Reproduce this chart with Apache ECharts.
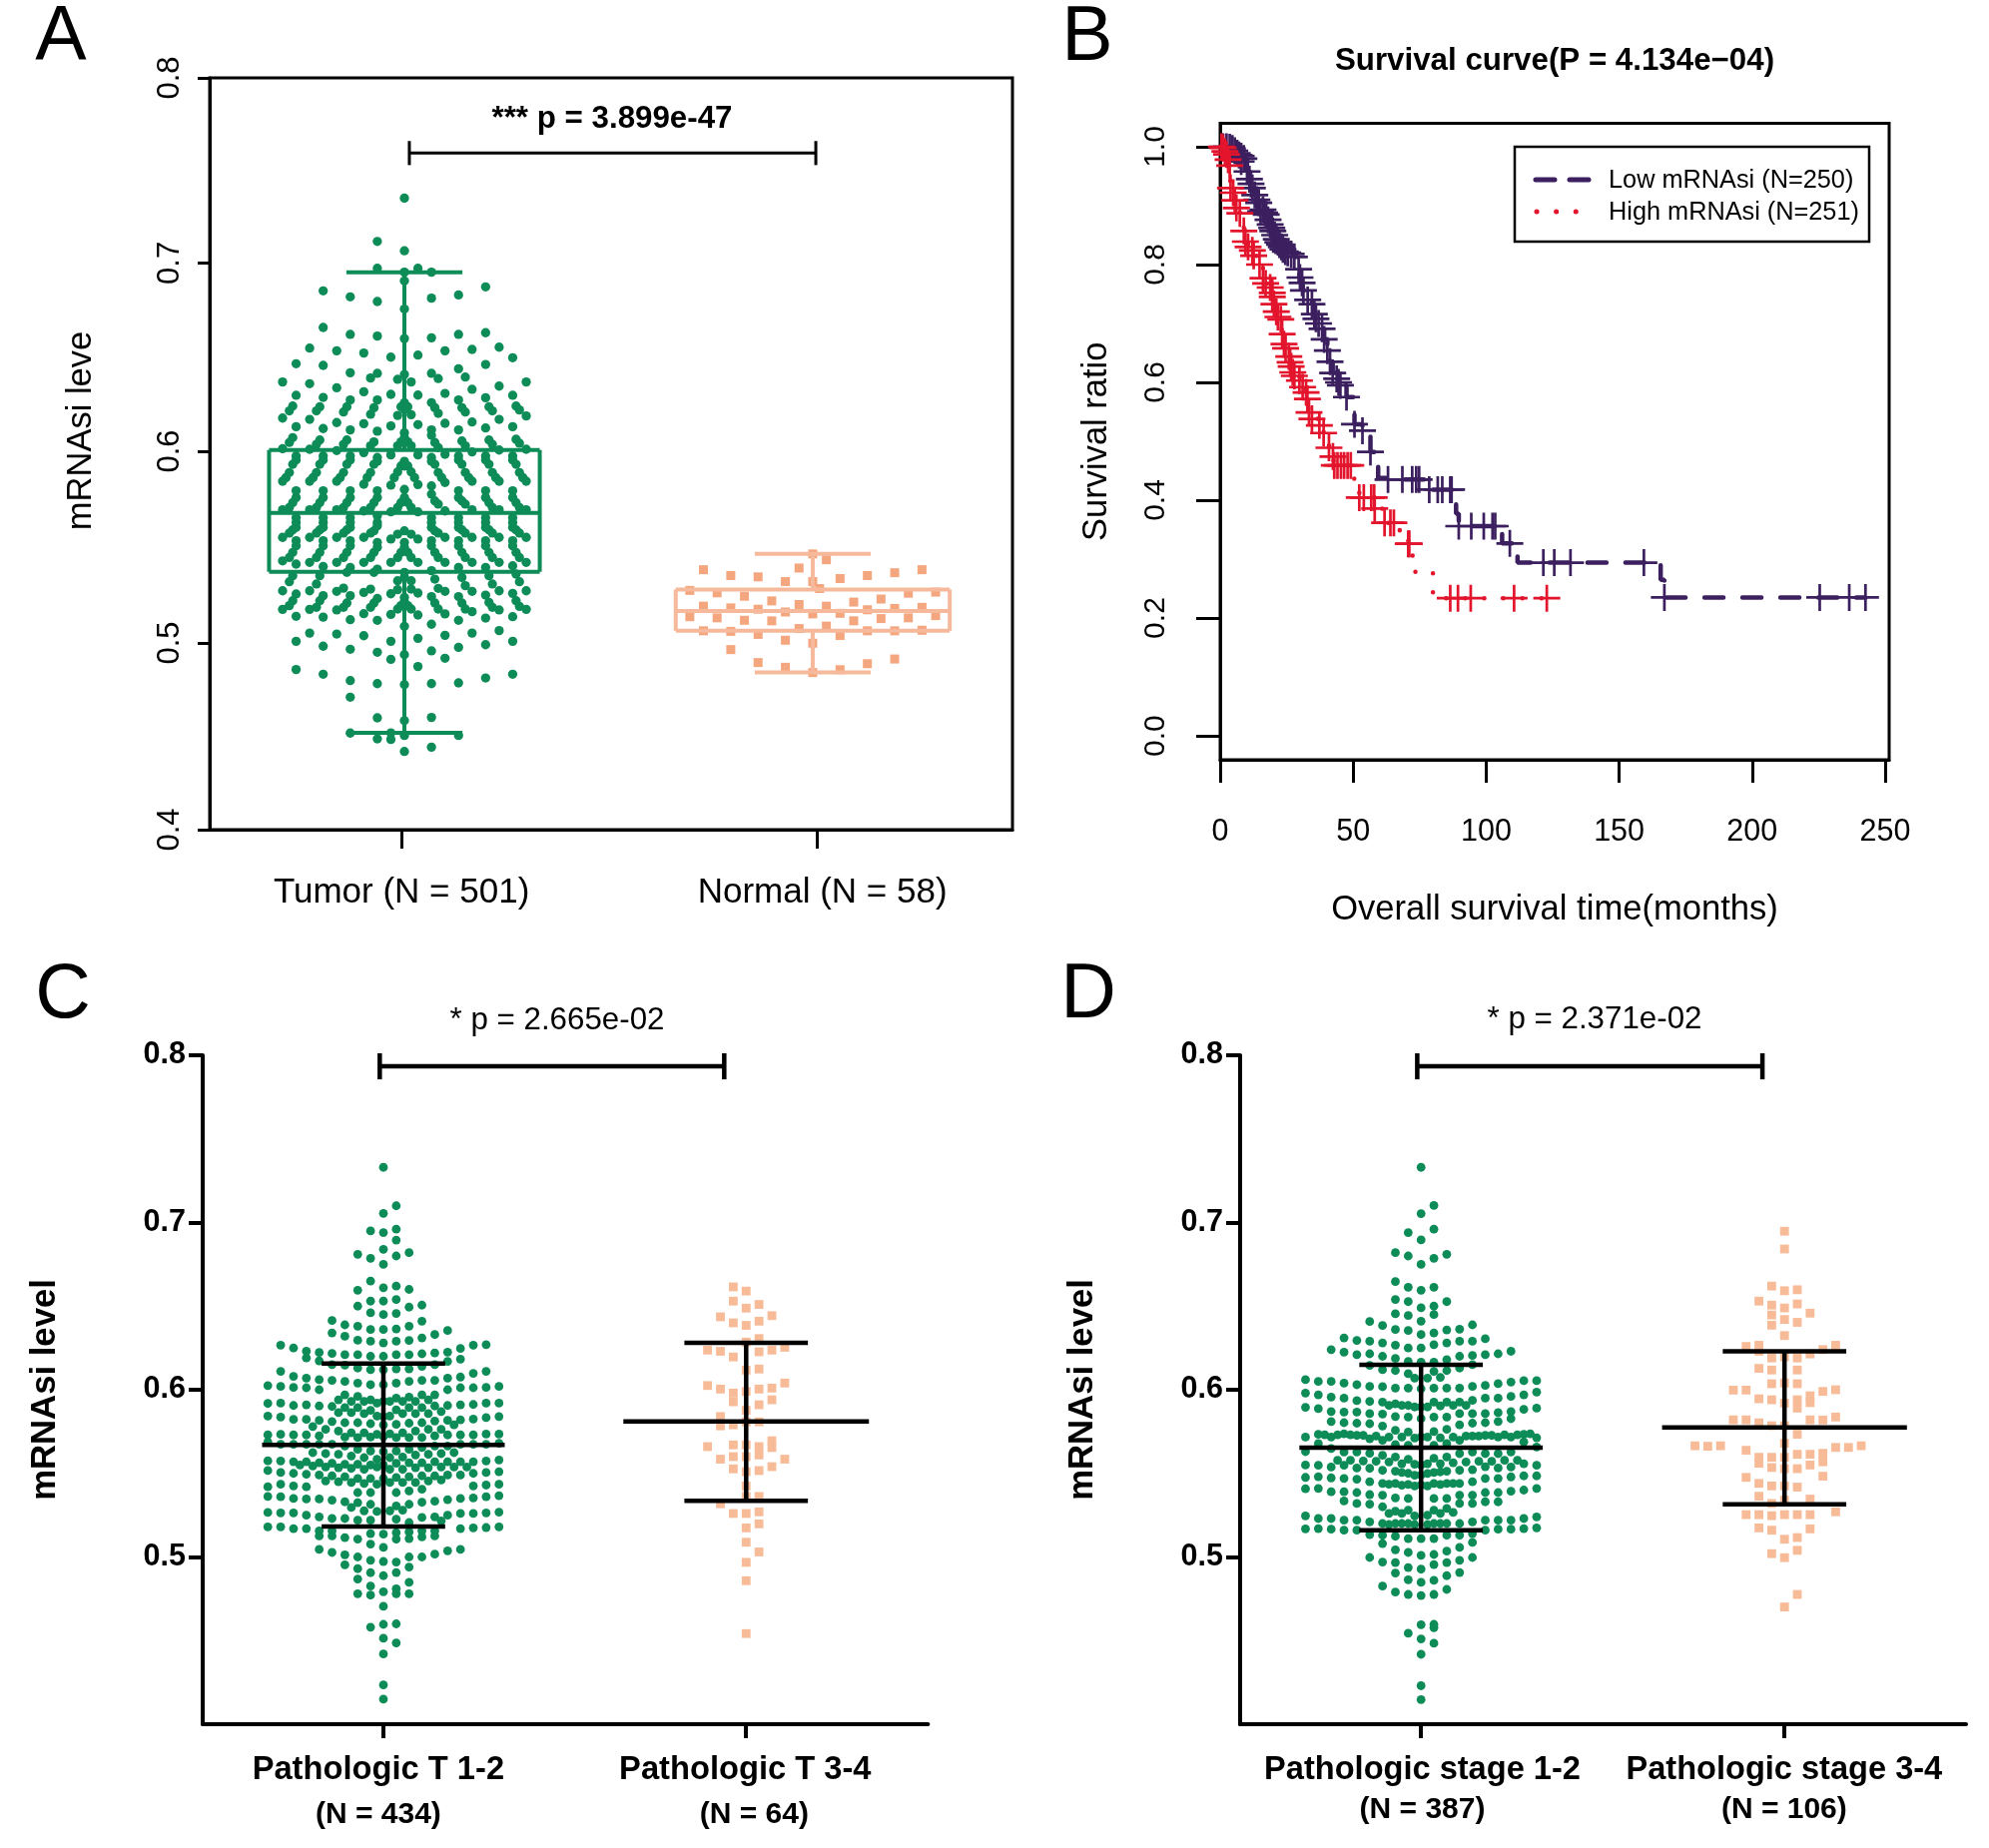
<!DOCTYPE html>
<html><head><meta charset="utf-8">
<style>html,body{margin:0;padding:0;background:#fff}#c{width:1992px;height:1851px}</style>
<script src="https://cdn.jsdelivr.net/npm/echarts@6/dist/echarts.min.js"></script>
</head><body><div id="c"></div>
<script>
// ---------- Panel A: swarm columns, values in thousandths: [column slot, [mRNAsi x 1000]]
const tumorA = [
[0,[736,708,696.6,692,677,661.3,642.2,627.2,623.6,611.2,608.6,596,593.5,581,576.7,559,552.8,550.2,536.9,534.2,523.6,521.3,508.2,493.1,477.2,458,450.1,441.6]],
[-.25,[625,606.3,593.5,574,547.5,519.2]],[.25,[625,606.3,593.5,574,547.5,519.2]],
[-.5,[639.6,620.4,604.2,590.3,571.4,557.2,544.8,532.4,527.7,517.4]],[.5,[638.2,620.8,604.2,590.3,571.4,557.2,544.8,532.4,528,517.4]],
[-.75,[587.3]],[.75,[587.3]],
[-1,[651.4,631.6,614.8,599.4,583.3,569.1,554.6,542.2,525.5,514.5,500.2,490.6,451.5,448]],
[1,[698.7,652.5,631.2,615.5,599.4,583.6,569.1,554.6,542.2,525.9,514.2,501.8,486.8]],
[-2,[713,698.7,681,662.6,642.8,628.6,612,598,596,580.3,576.7,567,563.4,561.7,552.8,550.2,538.6,523,511.4,494.4,477.7,459.5,448.3]],
[-2.25,[624.5,606.3,594.4,574,559,547.5,536.9,520.6]],
[-2.5,[640.3,621,604.2,590,571.4,557.8,544.8,528,518.3]],[-2.75,[587.3]],
[-3,[653.6,633,616,600.6,583.8,569.6,555.5,542.2,526.2,514.9,503.2]],
[-4,[683.5,663.5,643.1,628.6,612.7,598.8,596.7,580.3,576.7,566,563.4,560.8,553.7,551,539.5,524.5,511.7,496,479.3,470.5,451.4]],
[-4.25,[625,607.3,594.4,574,559.5,547.5,536.9,520.6]],
[-4.5,[622.2,605,590,571.4,557.8,544.8,528.5,518.3]],[-4.75,[587.3]],
[-5,[654.8,635.1,616.6,601.7,585.4,570.2,555.5,542.2,526.8,516.9,504.1]],
[-6,[686.7,667.2,647,630,613.4,598.8,596.7,580.3,576.7,566,563.4,560.8,553.7,551,540,524.5,513.1,497.6,482.7]],
[-6.25,[625,607.3,594.4,574,559.5,547.5,535.1,521.8]],
[-6.5,[622.8,605,590,571.4,557.8,544.8,530.7,518.3]],[-6.75,[587.3]],
[-7,[656.2,637.3,618.3,602.4,585.4,570.2,555.5,542.2,527.1,517.2,504.6]],
[-8,[647.9,631.1,614.4,598.8,596.7,580.3,576.7,566,563.4,560.8,553.7,551,541.3,525.4,513.5,500.2,485.2]],
[-8.25,[625.4,608.6,594.4,574,559.5,547.5,535.1,521.8]],
[-8.5,[622.8,606,590,571.4,557.8,544.8,531.9,519.2]],[-8.75,[587.3]],
[-9,[638.2,619,602.7,585.4,570.2,555.5,543,527.1,517.2]],
[2,[696.6,682.8,661.7,642.8,627.2,612.7,609.8,598,596,582.9,578.5,566,563.4,560.8,553.7,551,537.8,524,509.3,495.1,477.7,459.7,443.9]],
[2.25,[624.5,606,594.4,574.9,559,547.5,533.3,520.6]],
[2.5,[640,621.5,603.3,590,573.2,557.8,544.8,528.4,517.4]],[2.75,[587.3]],
[3,[654.8,632.1,616.2,599.7,584.7,569.6,555.5,542.2,526.8,514.8,503.4,491.2]],
[4,[684.5,663.5,645.2,628.6,612.7,598.8,596.7,580.3,576.7,566,563.4,560.8,553.7,551,539.5,524,511.4,497,478.1,450.1]],
[4.25,[624.5,606.8,594.4,574.9,559.5,547.5,534.2,520.6]],
[4.5,[640.8,622.2,604.2,590,573.2,557.8,544.8,529.8,517.4]],[4.75,[587.3]],
[5,[655.5,634.3,616.9,601,585.4,570.2,555.5,542.2,526.8,516,504.6]],
[6,[688.8,664.4,647.5,629.8,613.7,598.8,596.7,580.3,576.7,566,563.4,560.8,553.7,551,539.5,524.8,512.6,498.4,480.7]],
[6.25,[625,607.3,594.4,574,559.5,547.5,535.1,520.9]],
[6.5,[622.8,605,590,571.4,557.8,544.8,530.7,518.3]],[6.75,[587.3]],
[7,[656.7,636,618.3,602,585.4,570.2,555.5,542.2,527.1,516.9,505.9]],
[8,[651.1,631.1,614.4,598.8,596.7,580.3,576.7,566,563.4,560.8,553.7,551,540.4,525.7,513.3,500.2,482.7]],
[8.25,[625.4,607.7,594.4,574,559.5,547.5,536,521.8]],
[8.5,[623.3,605.6,590,571.4,557.8,544.8,531.9,518.8]],[8.75,[587.3]],
[9,[638.2,620.1,602.4,585.4,570.2,555.5,542.2,527.1,517.2]]
];
const normalA = [
[0,[546.7,532,514.8,499.2,483.6]],[1,[543.6,518.9,508.3]],[-1,[539.2,519.8,507]],[-8,[538.3,518.9,505.8]],[8,[538.3,518.3,506.1]],
[-6,[535.2,518,505.5,495.8]],[-4,[534.5,517.3,503.9,488.9]],[2,[533.6,515.1,503.3,485.1]],[4,[535.2,517,505.8,488.3]],[6,[536.7,517.7,505.8,490.8]],
[-2,[532,515.8,500.8,486.4]],[.5,[528.3]],[-9,[527.3,513.3]],[-7,[526,512.7]],[-5,[524.2,511.4]],[-3,[521.7,511.1]],[7,[525.8,512.7]],[9,[526.4,513.9]],[5,[522.7,512.3]],[3,[521.1,511.1]]
];
const boxA = {tumor:[.4515,.5372,.5685,.602,.6966], normal:[.4836,.5058,.5164,.5278,.5467]};

// ---------- Panel B: survival curves [months, survival]
const lowCensor = [[1.1,1],[2.4,1],[3.6,.999],[4.6,.997],[5.5,.993],[6.4,.989],[7.1,.986],[7.9,.984],[7.9,.975],[8.9,.98],[10.1,.958],[11,.945],[11.6,.937],[12.1,.93],[13,.918],[13.8,.91],[14.5,.905],[15.2,.89],[16.1,.893],[16.7,.888],[17.3,.885],[18,.876],[18.8,.868],[19.4,.862],[19.8,.857],[20.5,.85],[21.1,.843],[21.7,.838],[22.3,.834],[23,.83],[23.6,.826],[24.5,.822],[25.4,.82],[26.7,.818],[27.9,.813],[29.5,.792],[30,.778],[30.8,.769],[31.3,.756],[32.9,.74],[34.5,.733],[35.4,.716],[36,.708],[37,.7],[38.3,.691],[39.1,.673],[40.3,.654],[41.3,.635],[42.3,.616],[43.8,.606],[44.5,.6],[45.2,.595],[47.5,.575],[50.5,.529],[53.5,.518],[56.5,.482],[63.1,.435],[68.5,.435],[72.2,.435],[73.7,.435],[74.8,.435],[78.6,.418],[81.8,.418],[83.5,.418],[86.5,.418],[87,.418],[89.7,.356],[94.4,.356],[99.1,.356],[102.4,.356],[103.4,.356],[108.9,.3266],[121.5,.294],[125.6,.294],[131.7,.294],[159.3,.294],[167,.235],[225.4,.235],[236.5,.235],[242.6,.235]];
const lowDrops = [[0,1],[59.4,.4377],[77,.418],[88.7,.377],[106,.3266],[111.8,.294],[165.6,.265]];
const highCensor = [[.5,1],[1.1,.998],[1.8,.992],[2.4,.987],[3,.978],[3.6,.968],[3.9,.93],[4.9,.922],[5.5,.909],[6.1,.896],[7.4,.887],[8.9,.857],[9.5,.839],[10.5,.83],[12.1,.824],[12.6,.815],[14.8,.8],[16.1,.777],[17.1,.768],[18.8,.761],[19.6,.752],[19.6,.745],[20.2,.733],[21.1,.72],[21.7,.711],[22.8,.707],[23.3,.682],[24,.665],[24.6,.658],[25.8,.644],[26.3,.634],[26.7,.627],[27.3,.617],[27.9,.611],[29.8,.603],[31,.592],[32.3,.583],[32.8,.572],[33.4,.549],[34.5,.538],[37.3,.527],[38.9,.514],[40.9,.489],[42.4,.474],[42.9,.459],[44.1,.459],[45.4,.459],[46.6,.459],[47.9,.459],[49.1,.459],[52.3,.4044],[54,.4044],[56.8,.4044],[57.9,.4044],[58.1,.3858],[61.8,.3616],[64,.3616],[65.3,.3616],[70.7,.326],[71.1,.326],[86.5,.2336],[89.4,.2336],[94.2,.2336],[110.5,.2336],[122.8,.2336]];
const highDrops = [[0,1],[50.4,.428],[61,.383],[67.5,.3475],[72.2,.306],[73.4,.277],[80,.2336]];

// ---------- Panel C
const t12C = [
[0,[733,705.5,694,684,675,661,653,645,636,628,620,612,603,593,584,579,572,563,555,547,513.6,505.7,497.3,488.8,479.2,470.5,459.7,451.4,442,423.5,415]],
[1,[710,696,689.5,680,662,654,645.6,636.4,629,621,612.5,604,595,588,579.3,571.4,563.4,556,547.5,538.5,530.5,522.6,514.6,510.7,497,490.7,481,478,460,448.6]],
[-1,[695,678.6,665,653,646,636,629,620,612,603,594,587.7,579.7,571.7,563.4,555,547,538.5,531.5,522,514,507.7,498,490.6,482.6,477.2,458]],
[2,[682,660,649.4,638,629.5,621,612.5,605,595.6,589.3,580,571.4,564.4,556.4,548,539.5,531.5,520.6,515,511,500,494,484.8,478]],
[-2,[681,659.5,650,638,629.6,621,613,604,596,589.3,580.3,571.4,564.4,555.4,547,538.5,532.5,522,510.7,500,493,486.8,478]],
[3,[650.6,641,631,621.5,614,605.6,597,589.3,580.3,571.4,565.4,556.4,548.5,540.5,532.7,523.6,515.6,512,500]],
[-3,[638.8,632,621,614.7,605,597,589.3,580.3,571.7,566.4,555.4,548,533,523,511.6,501.3,495.3]],
[4,[633,622,615,605.6,597,590.3,581.3,572.4,566.4,557,548.5,533.3,524,515.6,512.6,501.7]],
[-4,[641.4,634,621.7,615,605.6,590,581,567.4,556,548.5,534,523,515.6,512.6,502.7]],
[5,[635.4,622.5,617,607,600,590.6,581.7,573,566.4,557,549,534.3,525,503.7]],
[-5,[622.3,617.3,606,600,590.3,581.7,572.4,567.4,556.4,549,534.7,524,515.6,512.6,504.5]],
[6,[624.7,618.3,607.6,601.2,591,582,573,567.4,557,549,535,526,517,504.5]],
[-6,[623,619,607,601.2,591,582.3,573,567.4,557,549.5,542,534.7,525,517]],
[7,[626.7,609.8,601.2,591.2,582.5,573,567.4,557,550,542.5,535.3,526,517.4]],
[-7,[625,608,601.4,590.6,582.3,573,567.4,557,550,542.5,535,526.4,517]],
[8,[627,611,601.4,592,583.3,573.5,567.4,557.4,550.5,543,536,526.4,517.6]],
[-8,[626.7,611,602,592,583.7,573.3,567.4,557.4,550.5,543.5,536,526.4,518]],
[9,[602,592,584,573.5,568,558,551,543.5,536.7,526.8,518]],
[-9,[602.5,591.8,584.3,573,568.8,557.5,551.7,542,536.2,526.6,518]],
[-3.5,[594,586.3,575.3,561.4,553.4,545]],[-2.5,[593,586.3,574.3,560.4,553,544.5,529.6]],[-1.5,[593,585.7,574.3,559.4,552.4,544,527.6]],
[-.5,[592,584.3,573.3,558.4,553.8,543.5,527.2]],[.5,[593,584.3,573.7,559.4,552.4,544.5,527.6]],[1.5,[593,585.7,574.3,559.8,552.4,544.5,528]],
[2.5,[593,585.7,575.3,561,553.4,544.5]],[3.5,[594,585.7,576.3,561.4,553.4,545.5]],[4.5,[587,576.3,561.8,553.8,546,521.6]],[5.5,[579,562.4,553.8]],
[-4.5,[576.3,561.8,553.8,545.5]],[-5.5,[578,562.4,554.4]],[-6.5,[555]],[6.5,[553.8]]
];
const t34C = [
[-1,[661.5,653,640,619.6,598,592.8,579,567,560,552.7,526]],[0,[659,648.8,638.5,628.5,611.7,599,587.7,580.8,567,560,551,542.4,536.2,526,517.4,508.8,496.8,485.8,454.2]],
[1,[651,641,630.6,622.7,612.4,600.4,591,580.8,566,561,551.7,536.2,527,519.8,503]],[-2,[643.6,623,600.4,584,578.4,558.5,531.8]],[2,[644.3,623.7,601,594,569.5,565.4,554]],
[-3,[623.7,602.5,566]],[3,[625.4,604,558.5]]
];
const statsC = {a:[.5182,.567,.6157], b:[.5336,.581,.628]};

// ---------- Panel D
const stage12D = [
[0,[733,705.3,689.6,675,659.5,649,641,633,625,616.5,600.6,589.7,582.7,571.7,555,549,543,511,501,492.7,484.8,477,459.5,451,441.8,423,414.7]],
[1,[710.2,696,678.6,661.3,650,645,634,627,616.5,611,601,592.6,583.7,575,566.8,559,550.5,544,535,528,520,511,501.5,495.5,486,477.6,459.7,457.7,448.4]],
[-1,[694,680,661.3,652.7,644.4,635.4,625,617,609.6,601,590.6,583.7,574.7,566.8,558.4,550,543.3,535,528,520,511,502.7,493.7,486.4,477.6,454.4]],
[2,[681,652.7,635.8,628,618,611.5,601,592.6,583.7,576.3,567.8,559.8,551.3,544,535,529,520,513,503.5,496.7,488.8,480.6]],
[-2,[682,664.7,654,645.4,636,626.7,618.7,611.5,601,591.6,584,575.7,567.2,559.8,551.3,544,535.3,527.4,520,512.4,504.3,496.7,490.4,479]],
[3,[636.2,629,620,613,601,592.6,585.7,579,569.8,561.8,551.8,544,537,532,520,513,505.7,498,490.7]],
[-3,[638.4,628,620,612,601.8,592.6,585.5,578.3,569.8,560.8,551.8,544,537,530,520,513,508,497,482.6]],
[4,[638.8,629,620.5,615,602,593.6,585.7,580,572.3,562.8,552.2,545,537,532,521,514,508.7,499.7]],
[-4,[640.8,629,621.5,614.5,602,593,585.7,579.7,570.7,562,553,545,537.3,531.6,521,513.4,499.7]],
[5,[630.5,621,602.6,595,585.7,580.3,572.7,561.8,554,547,538.5,533,522,516]],
[-5,[629.5,621,603,593.5,586.7,580,572.7,562.8,553.2,546.5,538.5,532,522,516]],
[6,[621.5,603.6,595,586.3,581,571.7,561.8,553.2,547,538.5,533,522,516.6]],
[-6,[631,622.5,604,595,586.7,580.3,573.7,562.8,554.8,547,539,533.5,522,516]],
[7,[623,604.6,596,587,582.7,571.7,562.8,553.8,547.9,539.3,522,516.6]],
[-7,[624,605,595.6,587,581,571.7,564.8,553.8,547.3,539,523,516.6]],
[8,[605.4,597,588.3,573.3,568.8,555.8,548.5,540,523,517]],
[-8,[605,597,588.7,573.3,567.8,554.8,548,541,523,517]],
[9,[605.4,598.6,589,571.3,565.8,554.8,548.5,541,524,517.4]],
[-9,[606,598,589.5,571.7,563,555,547.6,540.8,524.6,516.8]],
[-7.5,[573.1]],[-6.5,[573.1,557.8]],[-5.5,[573.1,557.8]],[-4.5,[572.7,557.4]],[-3.5,[572.3,557.2]],
[-2.5,[590.7,571.7,556.8,543.5,526,519.4]],[-1.5,[590.7,571.7,555.8,550.5,542.9,526,520]],[-.5,[607,589.7,571.1,555.4,548.9,542.5,524.6,519.4]],
[.5,[607,589.7,571.7,555.8,549.9,542.5,525,519.4]],[1.5,[607.4,590.3,571.3,555.8,550.9,543.3,526,520]],[2.5,[590.7,571.7,556.4,543.9,526.6]],
[3.5,[590.7,572.3,556.8]],[4.5,[572.3,557.2]],[5.5,[572.7,557.2]],[6.5,[573.1,557.8]],[7.5,[573.1,557.8]],[8.5,[573.7]]
];
const stage34D = [
[0,[694.8,684.2,659.2,648.9,642,632.4,619.7,604,592,578.5,568,559.6,552.8,542.5,534,525.3,510.6,499.6,470.1]],
[1,[659.8,651.3,640.3,619,611.8,603.6,594,589,573.4,561.4,552.8,541.8,525.3,511.6,504,477.6]],
[-1,[662,650.6,644.7,638.6,619,611.8,603.6,594,578.5,559.6,553.5,542.5,532,524.7,516,502]],
[-2,[653,626.6,623,612.8,594.6,580.2,559.6,556,544,536.3,525.3,517.4]],
[2,[645.8,621.4,596.4,592.3,582,561.4,555,534.6,525.3,516.8]],
[-3,[625.9,599.8,582,563.8,547.6,525.3]],[-4,[599.8,582]],
[3,[624,599,581.9,562,556.9,548.3]],[4,[626.6,600,583.7,565.5,527]],[5,[565.5]],[6,[566.5]],[-5,[566.5]],[-6,[566.2]],[-7,[566.5]]
];
const statsD = {a:[.516,.5654,.615], b:[.5315,.5775,.623]};

const yTicks = [.4,.4993,.6013,.7015,.8];
const cdTicks = [.5,.6,.7,.8];
const survYTicks = [0,.2,.4,.6,.8,1];
const survXTicks = [0,50,100,150,200,250];
const labelsA = ['Tumor (N = 501)','Normal (N = 58)'];
const labelsC = [['Pathologic T 1-2','(N = 434)'],['Pathologic T 3-4','(N = 64)']];
const labelsD = [['Pathologic stage 1-2','(N = 387)'],['Pathologic stage 3-4','(N = 106)']];

const FONT='"Liberation Sans"', GREEN='#0D8C58', PEACH='#F7BB98', PEACH_A='#F4A67F', PEACH_BOX='#F6B99B',
      PURPLE='#3B1F5F', RED='#E3152D';
const PLUS='path://M45,0H55V45H100V55H55V100H45V55H0V45H45Z';
const grp=v=>v<1.5?0:1;

function swarm(cols,center,step){const o=[];cols.forEach(([s,vals])=>vals.forEach(v=>o.push([center+s*step,v/1000])));return o;}
function seg(i,segs,color,w,z){return {type:'custom',xAxisIndex:i,yAxisIndex:i,silent:true,z:z||5,data:segs,encode:{x:[0,2],y:[1,3]},clip:false,
  renderItem:(p,api)=>{const a=api.coord([api.value(0),api.value(1)]),b=api.coord([api.value(2),api.value(3)]);
   return {type:'line',shape:{x1:a[0],y1:a[1],x2:b[0],y2:b[1]},style:{stroke:color,lineWidth:w,lineCap:'butt'}};}};}
function boxSegs(c,s,bh,wh){const [lo,q1,m,q3,hi]=s;return [[c-bh,q1,c+bh,q1],[c-bh,m,c+bh,m],[c-bh,q3,c+bh,q3],[c-bh,q1,c-bh,q3],[c+bh,q1,c+bh,q3],[c,lo,c,q1],[c,q3,c,hi],[c-wh,lo,c+wh,lo],[c-wh,hi,c+wh,hi]];}
function meanSegs(c,s,bh,wh){const [lo,m,hi]=s;return [[c-bh,m,c+bh,m],[c,lo,c,hi],[c-wh,lo,c+wh,lo],[c-wh,hi,c+wh,hi]];}
function bracket(x1,x2,y,t){return [[x1,y,x2,y],[x1,y-t,x1,y+t],[x2,y-t,x2,y+t]];}
function scatter(i,data,color,symbol,size,z){return {type:'scatter',xAxisIndex:i,yAxisIndex:i,data,symbol,symbolSize:size,itemStyle:{color,opacity:1},silent:true,z:z||3};}
function curve(i,cens,drops,color,dash,width,z){const d=[...cens,...drops].sort((a,b)=>a[0]-b[0]);
  return [{type:'line',xAxisIndex:i,yAxisIndex:i,data:d,step:'end',showSymbol:false,symbol:'none',silent:true,z,lineStyle:{color,width,type:dash,cap:'round'}},
          scatter(i,cens,color,PLUS,27,z)];}
const txt=(text,x,y,size,opt)=>({type:'text',x,y,silent:true,style:Object.assign({text,fontSize:size,fontFamily:FONT,fill:'#000',align:'center',verticalAlign:'middle'},opt||{})});
const ln=(x1,y1,x2,y2,style)=>({type:'line',silent:true,shape:{x1,y1,x2,y2},style});

const axisBase=w=>({axisLine:{show:true,onZero:false,lineStyle:{color:'#000',width:w}},splitLine:{show:false},minorTick:{show:false}});

const option={
 backgroundColor:'#fff',animation:false,
 grid:[
  {left:210,top:78,width:804,height:753,show:true,borderColor:'#000',borderWidth:3,backgroundColor:'transparent'},
  {left:1222,top:123.5,width:670,height:637.5,show:true,borderColor:'#000',borderWidth:3,backgroundColor:'transparent'},
  {left:203,top:1057,width:726.4,height:670},
  {left:1242,top:1057,width:727,height:670}
 ],
 xAxis:[
  Object.assign(axisBase(3),{gridIndex:0,type:'value',min:.5267,max:2.478,
    axisTick:{show:true,length:19,customValues:[.9927,2.0036],lineStyle:{color:'#000',width:3}},
    axisLabel:{customValues:[.993,2.016],margin:46,fontFamily:FONT,fontSize:35,color:'#000',formatter:v=>labelsA[grp(v)]}}),
  Object.assign(axisBase(3),{gridIndex:1,type:'value',min:0,max:251.5,
    name:'Overall survival time(months)',nameLocation:'middle',nameGap:133,nameTextStyle:{fontFamily:FONT,fontSize:34.6,color:'#000'},
    axisTick:{show:true,length:23,customValues:survXTicks,lineStyle:{color:'#000',width:3}},
    axisLabel:{customValues:survXTicks,margin:57,fontFamily:FONT,fontSize:30.5,color:'#000'}}),
  Object.assign(axisBase(4),{gridIndex:2,type:'value',min:.5055,max:2.4902,
    axisTick:{show:true,length:14,customValues:[1,1.99],lineStyle:{color:'#000',width:4}},
    axisLabel:{customValues:[.986,1.99],margin:23,color:'#000',formatter:v=>grp(v)?'{a|'+labelsC[1][0]+'}\n{c|'+labelsC[1][1]+'}':'{a|'+labelsC[0][0]+'}\n{b|'+labelsC[0][1]+'}',
      rich:{a:{fontFamily:FONT,fontWeight:'bold',fontSize:32.7,lineHeight:45},b:{fontFamily:FONT,fontWeight:'bold',fontSize:30,lineHeight:45},
            c:{fontFamily:FONT,fontWeight:'bold',fontSize:30,lineHeight:45,padding:[0,0,0,18]}}}}),
  Object.assign(axisBase(4),{gridIndex:3,type:'value',min:.5014,max:2.4877,
    axisTick:{show:true,length:14,customValues:[.9965,1.9896],lineStyle:{color:'#000',width:4}},
    axisLabel:{customValues:[1,1.99],margin:26,color:'#000',formatter:v=>'{a|'+labelsD[grp(v)][0]+'}\n{b|'+labelsD[grp(v)][1]+'}',
      rich:{a:{fontFamily:FONT,fontWeight:'bold',fontSize:32.6,lineHeight:40},b:{fontFamily:FONT,fontWeight:'bold',fontSize:30,lineHeight:40}}}})
 ],
 yAxis:[
  Object.assign(axisBase(3),{gridIndex:0,type:'value',min:.4,max:.8,name:'mRNAsi leve',nameLocation:'middle',nameGap:111,nameRotate:90,
    nameTextStyle:{fontFamily:FONT,fontSize:34.5,color:'#000',padding:[0,0,0,46]},
    axisTick:{show:true,length:12,customValues:yTicks,lineStyle:{color:'#000',width:3}},
    axisLabel:{customValues:yTicks,rotate:90,margin:24,fontFamily:FONT,fontSize:31,color:'#000',formatter:v=>v.toFixed(1)}}),
  Object.assign(axisBase(3),{gridIndex:1,type:'value',min:-.0406,max:1.0398,name:'Survival ratio',nameLocation:'middle',nameGap:106,nameRotate:90,
    nameTextStyle:{fontFamily:FONT,fontSize:34.5,color:'#000'},
    axisTick:{show:true,length:24,customValues:survYTicks,lineStyle:{color:'#000',width:3}},
    axisLabel:{customValues:survYTicks,rotate:90,margin:49,fontFamily:FONT,fontSize:30,color:'#000',formatter:v=>v.toFixed(1)}}),
  Object.assign(axisBase(4),{gridIndex:2,type:'value',min:.4,max:.8,name:'mRNAsi level',nameLocation:'middle',nameGap:140,nameRotate:90,
    nameTextStyle:{fontFamily:FONT,fontSize:34.7,fontWeight:'bold',color:'#000'},
    axisTick:{show:true,length:14,customValues:cdTicks,lineStyle:{color:'#000',width:4}},
    axisLabel:{customValues:cdTicks,margin:17,fontFamily:FONT,fontWeight:'bold',fontSize:30.5,color:'#000',formatter:v=>v.toFixed(1)}}),
  Object.assign(axisBase(4),{gridIndex:3,type:'value',min:.4,max:.8,name:'mRNAsi level',nameLocation:'middle',nameGap:140,nameRotate:90,
    nameTextStyle:{fontFamily:FONT,fontSize:34.7,fontWeight:'bold',color:'#000'},
    axisTick:{show:true,length:14,customValues:cdTicks,lineStyle:{color:'#000',width:4}},
    axisLabel:{customValues:cdTicks,margin:17,fontFamily:FONT,fontWeight:'bold',fontSize:30.5,color:'#000',formatter:v=>v.toFixed(1)}})
 ],
 series:[
  scatter(0,swarm(tumorA,1,.0329),GREEN,'circle',9.3),
  scatter(0,swarm(normalA,1.9925,.0332),PEACH_A,'rect',9),
  seg(0,boxSegs(1,boxA.tumor,.329,.141),GREEN,4),
  seg(0,boxSegs(1.9925,boxA.normal,.333,.141),PEACH_BOX,4),
  seg(0,bracket(1.012,2,.76,.0064),'#000',3),
  ...curve(1,lowCensor,lowDrops,PURPLE,[19,19],4.5,3),
  ...curve(1,highCensor,highDrops,RED,[.1,19],4.5,4),
  scatter(2,swarm(t12C,1,.03514),GREEN,'circle',8.8),
  scatter(2,swarm(t34C,1.9926,.0352),PEACH,'rect',8.8),
  seg(2,meanSegs(1,statsC.a,.332,.169),'#000',4.5),
  seg(2,meanSegs(1.9926,statsC.b,.336,.169),'#000',4.5),
  seg(2,bracket(.99,1.9326,.7934,.0078),'#000',4.5),
  scatter(3,swarm(stage12D,.9965,.03514),GREEN,'circle',8.8),
  scatter(3,swarm(stage34D,1.991,.035),PEACH,'rect',8.8),
  seg(3,meanSegs(.9965,statsD.a,.333,.169),'#000',4.5),
  seg(3,meanSegs(1.991,statsD.b,.335,.169),'#000',4.5),
  seg(3,bracket(.986,1.9306,.7934,.0078),'#000',4.5)
 ],
 graphic:[
  txt('A',61,39,77),txt('B',1089,39,77),txt('C',63,998,77),txt('D',1090,998,77),
  txt('*** p = 3.899e-47',613,119,31.3,{fontWeight:'bold'}),
  txt('Survival curve(P = 4.134e\u221204)',1557,61,31.3,{fontWeight:'bold'}),
  txt('* p = 2.665e-02',558,1022,31.3),
  txt('* p = 2.371e-02',1597,1021,31.3),
  {type:'rect',silent:true,shape:{x:1517,y:147,width:355,height:95},style:{fill:'#fff',stroke:'#000',lineWidth:2.5},z:20},
  Object.assign(ln(1538,180,1591,180,{stroke:PURPLE,lineWidth:5,lineDash:[19,15],lineCap:'round'}),{z:21}),
  Object.assign(ln(1539,212,1581,212,{stroke:RED,lineWidth:5,lineDash:[.1,19.5],lineCap:'round'}),{z:21}),
  Object.assign(txt('Low mRNAsi (N=250)',1611,181,25.3,{align:'left'}),{z:21}),
  Object.assign(txt('High mRNAsi (N=251)',1611,213,25.3,{align:'left'}),{z:21})
 ]
};
const chart=echarts.init(document.getElementById('c'),null,{renderer:'canvas',width:1992,height:1851});
chart.setOption(option);
</script></body></html>
